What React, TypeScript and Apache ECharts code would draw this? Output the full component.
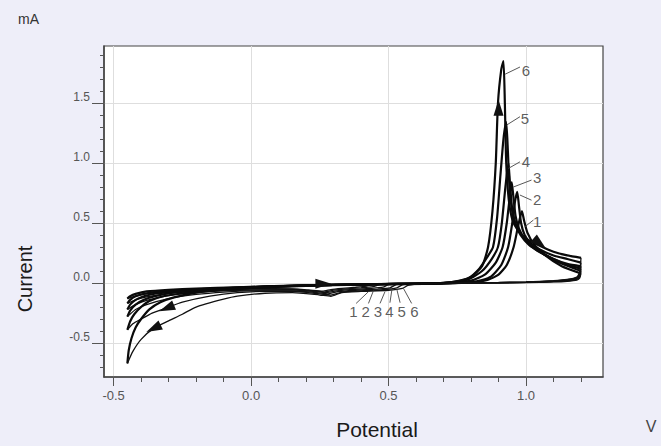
import { useEffect, useRef } from "react";
import * as echarts from "echarts";

// Axis extents (V and mA)
const X_MIN = -0.535;
const X_MAX = 1.28;
const Y_MIN = -0.783;
const Y_MAX = 1.975;

// Tick values
const xMajorTicks = [-0.5, 0.0, 0.5, 1.0];
const xMinorTicks = [-0.5, -0.4, -0.3, -0.2, -0.1, 0.0, 0.1, 0.2, 0.3, 0.4, 0.5, 0.6, 0.7, 0.8, 0.9, 1.0, 1.1, 1.2];
const yMajorTicks = [-0.5, 0.0, 0.5, 1.0, 1.5];
const yMinorTicks = [-0.7, -0.6, -0.5, -0.4, -0.3, -0.2, -0.1, 0.0, 0.1, 0.2, 0.3, 0.4, 0.5, 0.6, 0.7, 0.8, 0.9, 1.0, 1.1, 1.2, 1.3, 1.4, 1.5, 1.6, 1.7, 1.8, 1.9];

// Anodic sweeps (-0.45 V -> 1.2 V), [potential V, current mA]
const cycle1Forward = [[-0.45, -0.13], [-0.44, -0.11], [-0.42, -0.09], [-0.38, -0.07], [-0.3, -0.056], [-0.2, -0.046], [-0.05, -0.035], [0.15, -0.022], [0.35, -0.013], [0.55, -0.007], [0.7, -0.002], [0.8, 0.005], [0.86, 0.025], [0.9, 0.07], [0.93, 0.15], [0.955, 0.3], [0.97, 0.46], [0.985, 0.6], [0.993, 0.52], [1.005, 0.42], [1.03, 0.32], [1.07, 0.23], [1.13, 0.14], [1.2, 0.08]];
const cycle2Forward = [[-0.45, -0.17], [-0.44, -0.14], [-0.42, -0.11], [-0.38, -0.085], [-0.32, -0.068], [-0.22, -0.055], [-0.1, -0.042], [0.05, -0.03], [0.25, -0.018], [0.45, -0.01], [0.62, -0.005], [0.74, 0.0], [0.82, 0.015], [0.87, 0.05], [0.91, 0.15], [0.935, 0.3], [0.95, 0.5], [0.96, 0.68], [0.968, 0.76], [0.974, 0.65], [0.982, 0.5], [0.995, 0.4], [1.02, 0.32], [1.06, 0.25], [1.12, 0.17], [1.2, 0.1]];
const cycle3Forward = [[-0.45, -0.22], [-0.44, -0.18], [-0.42, -0.14], [-0.39, -0.11], [-0.34, -0.085], [-0.25, -0.065], [-0.15, -0.05], [0.0, -0.035], [0.2, -0.02], [0.4, -0.012], [0.6, -0.006], [0.72, 0.0], [0.8, 0.02], [0.85, 0.07], [0.89, 0.17], [0.915, 0.3], [0.93, 0.5], [0.94, 0.7], [0.948, 0.84], [0.954, 0.72], [0.962, 0.56], [0.975, 0.45], [1.0, 0.35], [1.04, 0.27], [1.1, 0.2], [1.15, 0.15], [1.2, 0.12]];
const cycle4Forward = [[-0.45, -0.28], [-0.44, -0.23], [-0.42, -0.18], [-0.39, -0.14], [-0.35, -0.11], [-0.3, -0.085], [-0.2, -0.06], [-0.1, -0.045], [0.05, -0.03], [0.25, -0.018], [0.45, -0.01], [0.62, -0.005], [0.73, 0.005], [0.79, 0.03], [0.84, 0.1], [0.875, 0.2], [0.898, 0.3], [0.912, 0.5], [0.925, 0.8], [0.936, 1.0], [0.941, 0.85], [0.948, 0.65], [0.96, 0.5], [0.98, 0.4], [1.01, 0.32], [1.05, 0.26], [1.1, 0.2], [1.15, 0.16], [1.2, 0.14]];
const cycle5Forward = [[-0.45, -0.39], [-0.44, -0.32], [-0.425, -0.26], [-0.4, -0.2], [-0.37, -0.15], [-0.32, -0.11], [-0.25, -0.085], [-0.15, -0.06], [-0.05, -0.045], [0.1, -0.03], [0.3, -0.018], [0.5, -0.01], [0.65, -0.005], [0.74, 0.01], [0.79, 0.04], [0.83, 0.12], [0.86, 0.22], [0.88, 0.3], [0.895, 0.55], [0.907, 0.9], [0.918, 1.2], [0.928, 1.34], [0.934, 1.1], [0.94, 0.8], [0.95, 0.6], [0.97, 0.45], [1.0, 0.36], [1.05, 0.28], [1.1, 0.23], [1.15, 0.2], [1.2, 0.17]];
const cycle6Forward = [[-0.45, -0.67], [-0.445, -0.56], [-0.435, -0.46], [-0.42, -0.37], [-0.4, -0.3], [-0.37, -0.22], [-0.33, -0.16], [-0.28, -0.12], [-0.2, -0.08], [-0.1, -0.055], [0.0, -0.04], [0.15, -0.025], [0.3, -0.015], [0.45, -0.01], [0.6, -0.005], [0.7, 0.0], [0.76, 0.02], [0.8, 0.05], [0.84, 0.14], [0.862, 0.3], [0.878, 0.6], [0.89, 1.0], [0.898, 1.5], [0.91, 1.78], [0.918, 1.85], [0.923, 1.5], [0.928, 1.0], [0.937, 0.7], [0.95, 0.53], [0.97, 0.44], [1.0, 0.37], [1.05, 0.31], [1.1, 0.26], [1.15, 0.23], [1.2, 0.21]];

// Cathodic sweeps (1.2 V -> -0.45 V)
const cycle1Reverse = [[1.2, 0.08], [1.195, 0.04], [1.185, 0.025], [1.15, 0.015], [1.1, 0.009], [1.0, 0.004], [0.9, 0.001], [0.75, 0.0], [0.5, -0.004], [0.45, -0.01], [0.42, -0.025], [0.38, -0.035], [0.33, -0.045], [0.29, -0.055], [0.26, -0.068], [0.21, -0.058], [0.15, -0.048], [0.0, -0.044], [-0.1, -0.048], [-0.2, -0.056], [-0.3, -0.07], [-0.38, -0.09], [-0.42, -0.11], [-0.45, -0.13]];
const cycle2Reverse = [[1.2, 0.1], [1.195, 0.05], [1.185, 0.03], [1.15, 0.018], [1.1, 0.011], [1.0, 0.005], [0.9, 0.002], [0.75, 0.0], [0.52, -0.005], [0.47, -0.012], [0.444, -0.03], [0.4, -0.04], [0.34, -0.05], [0.3, -0.06], [0.265, -0.075], [0.22, -0.065], [0.15, -0.052], [0.0, -0.05], [-0.1, -0.057], [-0.2, -0.068], [-0.3, -0.088], [-0.38, -0.115], [-0.42, -0.14], [-0.45, -0.17]];
const cycle3Reverse = [[1.2, 0.12], [1.195, 0.06], [1.185, 0.035], [1.15, 0.022], [1.1, 0.013], [1.0, 0.006], [0.9, 0.002], [0.75, 0.0], [0.55, -0.005], [0.5, -0.012], [0.48, -0.035], [0.43, -0.045], [0.36, -0.055], [0.31, -0.065], [0.27, -0.08], [0.23, -0.07], [0.15, -0.058], [0.0, -0.058], [-0.1, -0.065], [-0.2, -0.08], [-0.3, -0.105], [-0.38, -0.145], [-0.42, -0.18], [-0.45, -0.22]];
const cycle4Reverse = [[1.2, 0.14], [1.195, 0.07], [1.185, 0.04], [1.15, 0.025], [1.1, 0.015], [1.0, 0.007], [0.9, 0.003], [0.75, 0.0], [0.58, -0.005], [0.53, -0.012], [0.505, -0.04], [0.46, -0.05], [0.38, -0.06], [0.32, -0.07], [0.28, -0.09], [0.24, -0.08], [0.15, -0.065], [0.0, -0.065], [-0.1, -0.075], [-0.2, -0.095], [-0.3, -0.13], [-0.38, -0.18], [-0.42, -0.22], [-0.45, -0.28]];
const cycle5Reverse = [[1.2, 0.17], [1.195, 0.08], [1.185, 0.045], [1.15, 0.028], [1.1, 0.018], [1.0, 0.008], [0.9, 0.004], [0.75, 0.0], [0.6, -0.005], [0.55, -0.015], [0.53, -0.04], [0.48, -0.055], [0.4, -0.065], [0.33, -0.075], [0.29, -0.1], [0.25, -0.09], [0.15, -0.07], [0.05, -0.07], [-0.05, -0.08], [-0.15, -0.11], [-0.25, -0.16], [-0.31, -0.21], [-0.36, -0.25], [-0.4, -0.3], [-0.43, -0.34], [-0.45, -0.39]];
const cycle6Reverse = [[1.2, 0.21], [1.195, 0.09], [1.185, 0.05], [1.15, 0.03], [1.1, 0.02], [1.0, 0.01], [0.9, 0.005], [0.75, 0.0], [0.62, -0.005], [0.57, -0.02], [0.55, -0.045], [0.5, -0.06], [0.4, -0.07], [0.33, -0.08], [0.29, -0.11], [0.25, -0.1], [0.15, -0.08], [0.05, -0.085], [-0.05, -0.11], [-0.1, -0.135], [-0.2, -0.2], [-0.25, -0.26], [-0.3, -0.315], [-0.355, -0.378], [-0.4, -0.47], [-0.43, -0.57], [-0.45, -0.67]];

// Sweep-direction arrows: [potential, current, heading in degrees]
const sweepArrows = [
  [0.263, -0.005, -90],
  [0.9, 1.46, 0],
  [1.05, 0.33, -130],
  [-0.307, -0.21, 113],
  [-0.355, -0.378, 116],
];

// Cycle number callouts: label, label anchor, leader line from curve to label
const peakCallouts = [
  { label: "1", at: [1.041, 0.51], from: [0.996, 0.469], to: [1.027, 0.525] },
  { label: "2", at: [1.041, 0.7], from: [0.978, 0.733], to: [1.02, 0.69] },
  { label: "3", at: [1.041, 0.88], from: [0.954, 0.8], to: [1.02, 0.858] },
  { label: "4", at: [1.0, 1.01], from: [0.936, 0.955], to: [0.978, 1.01] },
  { label: "5", at: [0.996, 1.372], from: [0.93, 1.317], to: [0.978, 1.386] },
  { label: "6", at: [1.0, 1.775], from: [0.924, 1.74], to: [0.978, 1.8] },
];
const dipCallouts = [
  { label: "1", at: [0.372, -0.239], from: [0.427, -0.072], to: [0.382, -0.17] },
  { label: "2", at: [0.417, -0.239], from: [0.445, -0.064], to: [0.427, -0.17] },
  { label: "3", at: [0.461, -0.239], from: [0.487, -0.072], to: [0.469, -0.17] },
  { label: "4", at: [0.503, -0.239], from: [0.512, -0.058], to: [0.505, -0.164] },
  { label: "5", at: [0.548, -0.239], from: [0.53, -0.052], to: [0.542, -0.164] },
  { label: "6", at: [0.594, -0.239], from: [0.554, -0.044], to: [0.584, -0.17] },
];

const FONT = "'Liberation Sans', Arial, Helvetica, sans-serif";

const cycles = [
  { forward: cycle1Forward, reverse: cycle1Reverse },
  { forward: cycle2Forward, reverse: cycle2Reverse },
  { forward: cycle3Forward, reverse: cycle3Reverse },
  { forward: cycle4Forward, reverse: cycle4Reverse },
  { forward: cycle5Forward, reverse: cycle5Reverse },
  { forward: cycle6Forward, reverse: cycle6Reverse },
];

function buildOption(): any {
  const curveSeries = cycles.flatMap((c, i) => [
    {
      type: "line",
      name: `cycle ${i + 1} anodic`,
      data: c.forward,
      showSymbol: false,
      symbol: "none",
      smooth: 0.2,
      silent: true,
      lineStyle: { color: "#0a0a0a", width: 2.2 },
      z: 3,
    },
    {
      type: "line",
      name: `cycle ${i + 1} cathodic`,
      data: c.reverse,
      showSymbol: false,
      symbol: "none",
      smooth: 0.2,
      silent: true,
      lineStyle: { color: "#111", width: 1.3 },
      z: 3,
    },
  ]);

  const callouts = [...peakCallouts, ...dipCallouts];

  return {
    animation: false,
    backgroundColor: "#eeeef9",
    grid: {
      left: 104,
      right: 58,
      top: 46,
      bottom: 69,
      show: true,
      backgroundColor: "#ffffff",
      borderColor: "#444",
      borderWidth: 1.2,
      containLabel: false,
      outerBoundsMode: "none",
    },
    xAxis: [
      {
        type: "value",
        min: X_MIN,
        max: X_MAX,
        position: "bottom",
        axisLine: { show: true, onZero: false, lineStyle: { color: "#444", width: 1.5 } },
        axisTick: { show: true, customValues: xMinorTicks, length: 5, lineStyle: { color: "#555" } },
        axisLabel: {
          show: true,
          customValues: xMajorTicks,
          formatter: (v: number) => v.toFixed(1),
          margin: 12,
          fontSize: 13,
          color: "#555",
          fontFamily: FONT,
        },
        splitLine: { show: false },
      },
      {
        type: "value",
        min: X_MIN,
        max: X_MAX,
        position: "bottom",
        axisLine: { show: false, onZero: false },
        axisTick: { show: true, customValues: xMajorTicks, length: 9, lineStyle: { color: "#555" } },
        axisLabel: { show: false },
        splitLine: { show: true, lineStyle: { color: "#dedede", width: 1 } },
      },
    ],
    yAxis: [
      {
        type: "value",
        min: Y_MIN,
        max: Y_MAX,
        position: "left",
        axisLine: { show: true, onZero: false, lineStyle: { color: "#444", width: 1.5 } },
        axisTick: { show: true, customValues: yMinorTicks, length: 4, lineStyle: { color: "#555" } },
        axisLabel: {
          show: true,
          customValues: yMajorTicks,
          formatter: (v: number) => v.toFixed(1),
          margin: 14,
          fontSize: 12,
          color: "#555",
          fontFamily: FONT,
          verticalAlign: "bottom",
        },
        splitLine: { show: false },
      },
      {
        type: "value",
        min: Y_MIN,
        max: Y_MAX,
        position: "left",
        axisLine: { show: false, onZero: false },
        axisTick: { show: true, customValues: yMajorTicks, length: 12, lineStyle: { color: "#555" } },
        axisLabel: { show: false },
        splitLine: { show: true, lineStyle: { color: "#dedede", width: 1 } },
      },
    ],
    series: [
      ...curveSeries,
      {
        type: "lines",
        coordinateSystem: "cartesian2d",
        silent: true,
        symbol: "none",
        lineStyle: { color: "#444", width: 0.9, opacity: 1 },
        data: callouts.map((c) => ({ coords: [c.from, c.to] })),
        z: 4,
      },
      {
        type: "scatter",
        silent: true,
        symbolSize: 0,
        data: callouts.map((c) => ({ name: c.label, value: c.at })),
        label: {
          show: true,
          position: "inside",
          formatter: "{b}",
          fontSize: 15,
          color: "#333",
          fontFamily: FONT,
        },
        z: 5,
      },
      {
        type: "scatter",
        silent: true,
        symbol: "triangle",
        symbolSize: [10, 16],
        symbolRotate: (v: number[]) => v[2],
        itemStyle: { color: "#111", opacity: 1 },
        data: sweepArrows,
        z: 6,
      },
    ],
    graphic: [
      {
        type: "text",
        left: 18,
        top: 12,
        style: { text: "mA", fontSize: 14, fill: "#333", fontFamily: FONT },
      },
      {
        type: "text",
        x: 25,
        y: 279,
        rotation: Math.PI / 2,
        style: {
          text: "Current",
          fontSize: 20,
          fill: "#1a1a1a",
          fontFamily: FONT,
          align: "center",
          verticalAlign: "middle",
        },
      },
      {
        type: "text",
        x: 377,
        y: 429,
        style: {
          text: "Potential",
          fontSize: 21,
          fill: "#1a1a1a",
          fontFamily: FONT,
          align: "center",
          verticalAlign: "middle",
        },
      },
      {
        type: "text",
        x: 651,
        y: 426,
        style: {
          text: "V",
          fontSize: 16,
          fill: "#444",
          fontFamily: FONT,
          align: "center",
          verticalAlign: "middle",
        },
      },
    ],
  };
}

export default function App() {
  const ref = useRef<HTMLDivElement>(null);

  useEffect(() => {
    if (!ref.current) return;
    const chart = echarts.init(ref.current, undefined, { renderer: "svg" });
    chart.setOption(buildOption());
    return () => chart.dispose();
  }, []);

  return (
    <div
      ref={ref}
      style={{ position: "fixed", left: 0, top: 0, width: 661, height: 446 }}
    />
  );
}
